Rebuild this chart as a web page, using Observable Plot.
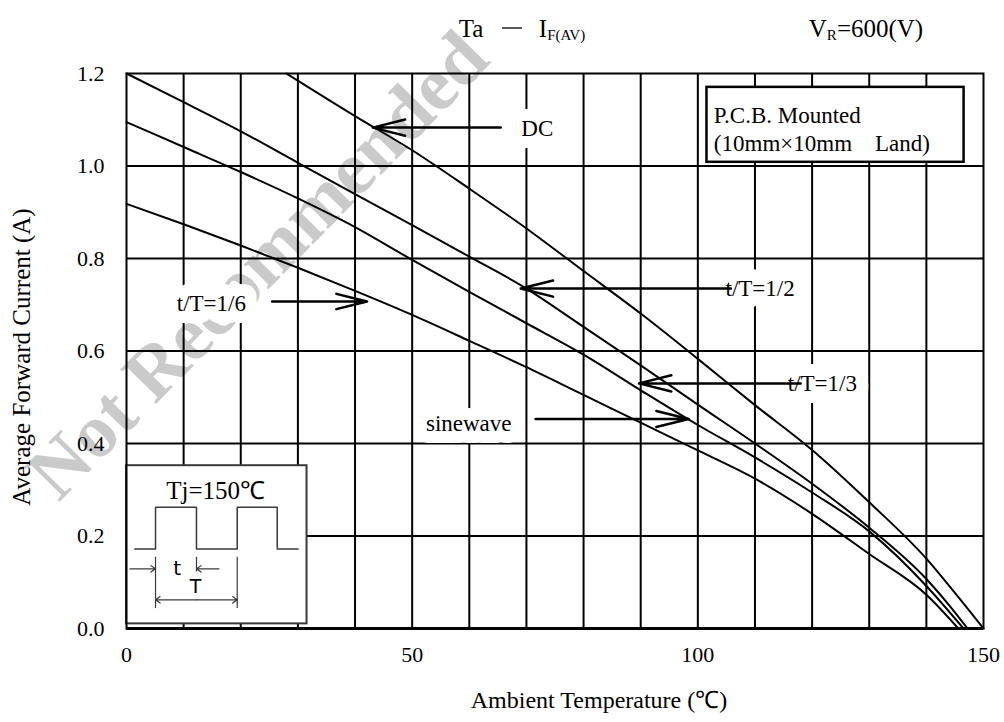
<!DOCTYPE html>
<html>
<head>
<meta charset="utf-8">
<script src="https://cdn.jsdelivr.net/npm/d3@7"></script>
<script src="https://cdn.jsdelivr.net/npm/@observablehq/plot@0.6"></script>
<style>
  html, body { margin: 0; padding: 0; background: #fff; }
  #chart svg { display: block; }
</style>
</head>
<body>
<div id="chart"></div>
<script>
// ---------------- data ----------------
const seriesNames = ["DC", "t/T=1/2", "t/T=1/3", "t/T=1/6"];

const taDC   = [28, 40, 50, 60, 70, 80, 90, 100, 110, 120, 130, 140, 145, 150];
const ifDC   = [1.2, 1.108, 1.034, 0.951, 0.865, 0.773, 0.681, 0.583, 0.483, 0.386, 0.273, 0.151, 0.077, 0];

const taHalf = [0, 10, 20, 30, 40, 50, 60, 70, 80, 90, 100, 110, 120, 130, 140, 144, 147.2];
const ifHalf = [1.2, 1.138, 1.075, 1.007, 0.939, 0.872, 0.804, 0.735, 0.652, 0.569, 0.484, 0.40, 0.313, 0.218, 0.107, 0.05, 0];

const taThird = [0, 10, 20, 30, 40, 50, 60, 70, 80, 90, 100, 110, 120, 130, 140, 146.5];
const ifThird = [1.095, 1.041, 0.987, 0.93, 0.868, 0.797, 0.728, 0.66, 0.592, 0.515, 0.44, 0.37, 0.294, 0.21, 0.092, 0];

const taSixth = [0, 10, 20, 30, 40, 50, 60, 70, 80, 90, 100, 110, 120, 130, 140, 145.6];
const ifSixth = [0.918, 0.874, 0.828, 0.78, 0.73, 0.678, 0.622, 0.565, 0.505, 0.445, 0.385, 0.324, 0.248, 0.161, 0.073, 0];

const xTicks = [0, 50, 100, 150];
const yTicks = [0, 0.2, 0.4, 0.6, 0.8, 1.0, 1.2];
const xGrid  = [10, 20, 30, 40, 50, 60, 70, 80, 90, 100, 110, 120, 130, 140];
const yGrid  = [0.2, 0.4, 0.6, 0.8, 1.0];

const titleMain = "Ta";
const titleSym = "I";
const titleSub = "F(AV)";
const condMain = "V";
const condSub = "R";
const condRest = "=600(V)";
const xLabel = "Ambient Temperature (℃)";
const yLabel = "Average Forward Current (A)";
const boxLines = ["P.C.B. Mounted", "(10mm×10mm\u3000Land)"];
const insetTitle = "Tj=150℃";
const labelTexts = ["DC", "t/T=1/2", "t/T=1/3", "t/T=1/6", "sinewave"];
const watermarkText = "Not Recommended";

// ---------------- build tables ----------------
const seriesTa = [taDC, taHalf, taThird, taSixth];
const seriesIf = [ifDC, ifHalf, ifThird, ifSixth];
const curves = seriesNames.flatMap((name, k) =>
  seriesTa[k].map((ta, i) => ({name, ta, i: seriesIf[k][i]})));

// annotation anchors (data units)
const labels = [
  {text: labelTexts[0], x: 71.9, y: 1.080, anchor: "middle", ax1: 65.5, ax2: 43.1, ay: 1.083},
  {text: labelTexts[1], x: 110.9, y: 0.7345, anchor: "start", ax1: 105.8, ax2: 69.0, ay: 0.735},
  {text: labelTexts[2], x: 121.8, y: 0.530, anchor: "start", ax1: 118.0, ax2: 89.7, ay: 0.530},
  {text: labelTexts[3], x: 14.85, y: 0.702, anchor: "middle", ax1: 25.5, ax2: 42.1, ay: 0.707},
  {text: labelTexts[4], x: 59.9, y: 0.443, anchor: "middle", ax1: 71.6, ax2: 98.4, ay: 0.453}
];

// inset waveform schematic (data units)
const lo = 0.172, hi = 0.262;
const wave = [[1.45, lo], [5.08, lo], [5.08, hi], [12.25, hi], [12.25, lo], [19.38, lo],
              [19.38, hi], [26.38, hi], [26.38, lo], [30.05, lo]].map(([x, y]) => ({x, y}));
const insetArrows = [
  {x1: 0.6, x2: 5.08, y: 0.129},
  {x1: 16.2, x2: 12.25, y: 0.129},
  {x1: 12.23, x2: 5.08, y: 0.062},
  {x1: 12.23, x2: 19.38, y: 0.062}
];
const insetTicks = [
  {x: 5.08, y1: 0.043, y2: 0.154},
  {x: 12.25, y1: 0.122, y2: 0.154},
  {x: 19.38, y1: 0.043, y2: 0.154}
];
const GREY = "#3a3a3a";
const SERIF = "'Liberation Serif', 'Times New Roman', serif";

const chart = Plot.plot({
  width: 1004,
  height: 722,
  marginLeft: 126,
  marginRight: 21,
  marginTop: 73,
  marginBottom: 94,
  style: {fontFamily: SERIF, background: "white", color: "black", overflow: "visible"},
  x: {domain: [0, 150], label: null},
  y: {domain: [0, 1.2], label: null},
  marks: [
    // watermark
    Plot.text([watermarkText], {x: 23.0, y: 0.785, text: d => d, rotate: -45.5, fontSize: 76,
      fontWeight: "bold", fill: "#cacaca", fontFamily: SERIF}),
    Plot.gridX(xGrid, {stroke: "black", strokeOpacity: 1, strokeWidth: 2}),
    Plot.gridY(yGrid, {stroke: "black", strokeOpacity: 1, strokeWidth: 2}),
    Plot.axisX(xTicks, {tickSize: 0, tickPadding: 18, fontSize: 22, fontFamily: SERIF,
      tickFormat: d => String(d), label: null}),
    Plot.axisY(yTicks, {tickSize: 0, tickPadding: 22, fontSize: 22, fontFamily: SERIF,
      tickFormat: d => d.toFixed(1), label: null}),
    // axis titles
    Plot.text([xLabel], {frameAnchor: "bottom", text: d => d, dx: 44, dy: 72, lineAnchor: "middle",
      textAnchor: "middle", fontSize: 24}),
    Plot.text([yLabel], {frameAnchor: "left", text: d => d, dx: -105, dy: 6, rotate: -90,
      textAnchor: "middle", lineAnchor: "middle", fontSize: 25}),
    // P.C.B. box
    Plot.rect([0], {x1: 101.6, x2: 146.6, y1: 1.008, y2: 1.170, fill: "white", stroke: "black", strokeWidth: 2.5}),
    Plot.text(boxLines, {x: 102.8, y: (d, i) => [1.109, 1.048][i], text: d => d, textAnchor: "start", fontSize: 23}),
    // inset box
    Plot.rect([0], {x1: 0, x2: 31.6, y1: 0.01, y2: 0.352, fill: "white", stroke: GREY, strokeWidth: 2}),
    Plot.text([insetTitle], {x: 15.6, y: 0.298, text: d => d, fontSize: 25}),
    Plot.line(wave, {x: "x", y: "y", stroke: GREY, strokeWidth: 1.5}),
    Plot.ruleX(insetTicks, {x: "x", y1: "y1", y2: "y2", stroke: GREY, strokeWidth: 1.2}),
    Plot.arrow(insetArrows, {x1: "x1", x2: "x2", y1: "y", y2: "y", stroke: GREY, strokeWidth: 1.2,
      headLength: 7, headAngle: 70}),
    Plot.text(["t"], {x: 8.87, y: 0.129, text: d => d, fontSize: 20, fontFamily: "'DejaVu Sans', sans-serif"}),
    Plot.text(["T"], {x: 12.1, y: 0.089, text: d => d, fontSize: 19, fontFamily: "'DejaVu Sans', sans-serif"}),
    // label texts with white knockout
    Plot.text(labels, {x: "x", y: "y", text: "text", textAnchor: d => d.anchor, fontSize: 23,
      stroke: "white", strokeWidth: 24, strokeLinejoin: "round", fill: "black"}),
    // curves
    Plot.line(curves, {x: "ta", y: "i", z: "name", stroke: "black", strokeWidth: 2, curve: "monotone-x"}),
    // arrows
    Plot.arrow(labels, {x1: "ax1", x2: "ax2", y1: "ay", y2: "ay", stroke: "black", strokeWidth: 2.5,
      headLength: 20, headAngle: 28}),
    Plot.frame({stroke: "black", strokeWidth: 2}),
    Plot.ruleY([0], {stroke: "black", strokeWidth: 3})
  ]
});

document.getElementById("chart").append(chart);

// title with subscripts
const svg = d3.select(chart);
svg.append("text").attr("x", 471).attr("y", 37).attr("font-family", SERIF).attr("font-size", 25)
  .attr("fill", "black").text(titleMain);
svg.append("line").attr("x1", 502).attr("x2", 522).attr("y1", 28).attr("y2", 28)
  .attr("stroke", "black").attr("stroke-width", 1.3);
const t2 = svg.append("text").attr("x", 562).attr("y", 37).attr("font-family", SERIF).attr("font-size", 25).attr("fill", "black");
t2.append("tspan").text(titleSym);
t2.append("tspan").attr("font-size", 15).attr("dy", 3).text(titleSub);
const t3 = svg.append("text").attr("x", 866).attr("y", 37).attr("font-family", SERIF).attr("font-size", 25).attr("fill", "black");
t3.append("tspan").text(condMain);
t3.append("tspan").attr("font-size", 15).attr("dy", 3).text(condSub);
t3.append("tspan").attr("dy", -3).text(condRest);
</script>
</body>
</html>
